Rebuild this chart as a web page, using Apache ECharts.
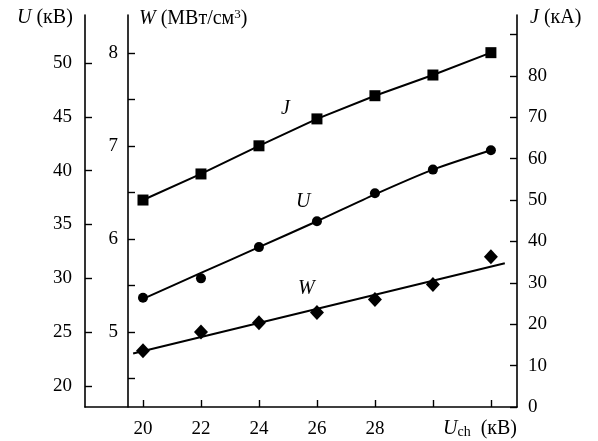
<!DOCTYPE html>
<html>
<head>
<meta charset="utf-8">
<script src="https://cdn.jsdelivr.net/npm/echarts@6/dist/echarts.min.js"></script>
<style>
  html, body { margin: 0; padding: 0; background: #fff; }
  #chart { width: 598px; height: 441px; }
</style>
</head>
<body>
<div id="chart"></div>
<script>
// charging voltage, kV
var xs = [20, 22, 24, 26, 28, 30, 32];
// J, kA (squares)
var jVals = [50.0, 56.3, 63.1, 69.6, 75.2, 80.2, 85.6];
// U, kV (circles)
var uVals = [28.2, 30.0, 32.9, 35.3, 37.9, 40.1, 41.9];
// U fitted curve
var uFitX = [20, 22, 24, 26, 28, 30, 32];
var uFitY = [28.1, 30.5, 32.9, 35.3, 37.8, 40.1, 41.9];
// W, MW/cm3 (diamonds)
var wVals = [4.80, 5.00, 5.10, 5.21, 5.35, 5.51, 5.81];
// W fitted line
var wFitX = [19.66, 32.48];
var wFitY = [4.77, 5.74];

var xTicks = [20, 22, 24, 26, 28, 30, 32];
var xLabels = [20, 22, 24, 26, 28];
var uTicks = [20, 25, 30, 35, 40, 45, 50];
var wTicks = [4.5, 5, 5.5, 6, 6.5, 7, 7.5, 8];
var wLabels = [5, 6, 7, 8];
var jTicks = [0, 10, 20, 30, 40, 50, 60, 70, 80, 90];
var jLabels = [0, 10, 20, 30, 40, 50, 60, 70, 80];

function pairs(a, b) {
    return a.map(function (v, i) { return [v, b[i]]; });
}

var FONT = 'Liberation Serif';
var axisCommon = {
    axisLine: { show: true, lineStyle: { color: '#000', width: 1.6 } },
    splitLine: { show: false }
};
var labelStyle = { fontSize: 19, fontFamily: FONT, color: '#000' };
var italic = { fontStyle: 'italic', fontSize: 20, fontFamily: FONT };

var chart = echarts.init(document.getElementById('chart'));
var option = {
    backgroundColor: '#fff',
    animation: false,
    grid: { left: 85, right: 81, top: 15, bottom: 34 },
    xAxis: Object.assign({
        type: 'value', min: 18, max: 32.9,
        axisTick: { inside: true, length: 7, customValues: xTicks, lineStyle: { color: '#000', width: 1.4 } },
        axisLabel: Object.assign({ customValues: xLabels, margin: 13 }, labelStyle)
    }, axisCommon),
    yAxis: [
        Object.assign({
            type: 'value', position: 'left', min: 18.05, max: 54.46,
            axisTick: { inside: true, length: 7, customValues: uTicks, lineStyle: { color: '#000', width: 1.4 } },
            axisLabel: Object.assign({ customValues: uTicks, margin: 13 }, labelStyle)
        }, axisCommon),
        Object.assign({
            type: 'value', position: 'left', offset: -43, min: 4.194, max: 8.409,
            axisTick: { inside: true, length: 7, customValues: wTicks, lineStyle: { color: '#000', width: 1.4 } },
            axisLabel: Object.assign({ customValues: wLabels, margin: 10 }, labelStyle)
        }, axisCommon),
        Object.assign({
            type: 'value', position: 'right', min: 0, max: 94.7,
            axisTick: { inside: true, length: 7, customValues: jTicks, lineStyle: { color: '#000', width: 1.4 } },
            axisLabel: Object.assign({ customValues: jLabels, margin: 11 }, labelStyle)
        }, axisCommon)
    ],
    series: [
        {
            name: 'J', type: 'line', yAxisIndex: 2,
            data: pairs(xs, jVals),
            symbol: 'rect', symbolSize: 11,
            itemStyle: { color: '#000', opacity: 1 },
            lineStyle: { color: '#000', width: 2 }
        },
        {
            name: 'U fit', type: 'line', yAxisIndex: 0,
            data: pairs(uFitX, uFitY), smooth: 0.25,
            showSymbol: false, symbol: 'none',
            lineStyle: { color: '#000', width: 2 }
        },
        {
            name: 'U', type: 'scatter', yAxisIndex: 0,
            data: pairs(xs, uVals),
            symbol: 'circle', symbolSize: 10,
            itemStyle: { color: '#000', opacity: 1 }
        },
        {
            name: 'W fit', type: 'line', yAxisIndex: 1,
            data: pairs(wFitX, wFitY),
            showSymbol: false, symbol: 'none',
            lineStyle: { color: '#000', width: 2 }
        },
        {
            name: 'W', type: 'scatter', yAxisIndex: 1,
            data: pairs(xs, wVals),
            symbol: 'diamond', symbolSize: [14, 15],
            itemStyle: { color: '#000', opacity: 1 }
        }
    ],
    graphic: [
        {
            type: 'text', left: 17, top: 8,
            style: {
                text: '{i|U} (кВ)', font: '20px ' + FONT, fill: '#000',
                rich: { i: italic }
            }
        },
        {
            type: 'text', left: 139, top: 8,
            style: {
                text: '{i|W} (МВт/см{s|3})', font: '20px ' + FONT, fill: '#000',
                rich: { i: italic, s: { fontSize: 13, fontFamily: FONT, padding: [0, 0, 9, 0] } }
            }
        },
        {
            type: 'text', left: 530, top: 8,
            style: {
                text: '{i|J} (кА)', font: '20px ' + FONT, fill: '#000',
                rich: { i: italic }
            }
        },
        {
            type: 'text', left: 443, top: 419,
            style: {
                text: '{i|U}{s|ch}  (кВ)', font: '20px ' + FONT, fill: '#000',
                rich: {
                    i: italic,
                    s: { fontSize: 14, fontFamily: FONT, padding: [7, 0, 0, 0] }
                }
            }
        },
        { type: 'text', left: 281, top: 99, style: { text: 'J', font: 'italic 20px ' + FONT, fill: '#000' } },
        { type: 'text', left: 296, top: 192, style: { text: 'U', font: 'italic 20px ' + FONT, fill: '#000' } },
        { type: 'text', left: 298, top: 279, style: { text: 'W', font: 'italic 20px ' + FONT, fill: '#000' } }
    ]
};
chart.setOption(option);
</script>
</body>
</html>
